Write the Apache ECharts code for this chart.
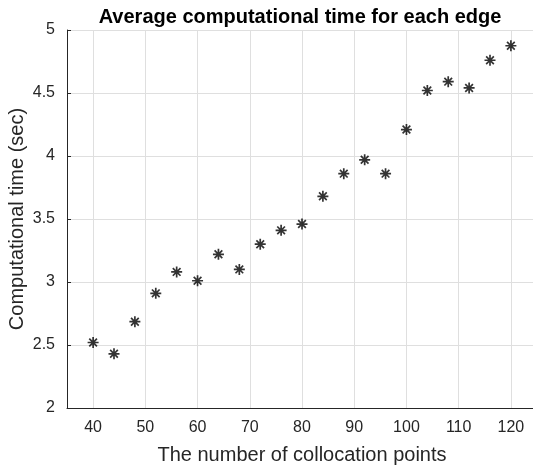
<!DOCTYPE html>
<html>
<head>
<meta charset="utf-8">
<script src="https://cdn.jsdelivr.net/npm/echarts@6/dist/echarts.min.js"></script>
<style>
html,body{margin:0;padding:0;background:#fff;}
#main{width:533px;height:473px;}
</style>
</head>
<body>
<div id="main"></div>
<script>
// collocation points and average time (sec)
var points = [40, 44, 48, 52, 56, 60, 64, 68, 72, 76, 80, 84, 88, 92, 96, 100, 104, 108, 112, 116, 120];
var times = [2.52, 2.43, 2.685, 2.91, 3.08, 3.01, 3.22, 3.10, 3.30, 3.41, 3.46, 3.68, 3.86, 3.97, 3.86, 4.21, 4.52, 4.59, 4.54, 4.76, 4.875];
var xTicks = [40, 50, 60, 70, 80, 90, 100, 110, 120];
var yTicks = [2, 2.5, 3, 3.5, 4, 4.5, 5];

var data = [];
for (var i = 0; i < points.length; i++) {
	data.push([points[i], times[i]]);
}

// asterisk marker like matlab '*'
var star = 'path://M5,0L5,10M0,5L10,5M1.5,1.5L8.5,8.5M1.5,8.5L8.5,1.5';

var chart = echarts.init(document.getElementById('main'));
var option = {
	animation: false,
	backgroundColor: '#fff',
	textStyle: {fontFamily: 'Liberation Sans, Arial, sans-serif'},
	title: {
		text: 'Average computational time for each edge',
		left: 295,
		textAlign: 'center',
		top: 2,
		textStyle: {fontSize: 20, fontWeight: 'bold', color: '#000'}
	},
	grid: {left: 67, right: -4, top: 30, bottom: 65, containLabel: false, outerBoundsMode: 'none'},
	xAxis: {
		type: 'value',
		min: 35,
		max: 125,
		name: 'The number of collocation points',
		nameLocation: 'middle',
		nameGap: 37,
		nameMoveOverlap: false,
		nameTextStyle: {fontSize: 20, color: '#262626'},
		axisLine: {show: true, lineStyle: {color: '#262626', width: 1}},
		axisTick: {inside: true, length: 4, lineStyle: {color: '#262626'},
			customValues: xTicks},
		axisLabel: {fontSize: 16, color: '#262626', margin: 12,
			customValues: xTicks},
		splitLine: {show: false}
	},
	yAxis: {
		type: 'value',
		min: 2,
		max: 5,
		interval: 0.5,
		name: 'Computational time (sec)',
		nameLocation: 'middle',
		nameGap: 40,
		nameMoveOverlap: false,
		nameTextStyle: {fontSize: 20, color: '#262626'},
		axisLine: {show: true, lineStyle: {color: '#262626', width: 1}},
		axisTick: {inside: true, length: 4, lineStyle: {color: '#262626'}},
		axisLabel: {fontSize: 16, color: '#262626', margin: 12,
			formatter: function (v) { return yTicks.indexOf(v) >= 0 ? String(v) : ''; }},
		splitLine: {show: true, lineStyle: {color: '#dfdfdf', width: 1}}
	},
	series: [{
		// vertical grid lines at the labelled ticks
		type: 'line',
		data: [],
		z: 0,
		markLine: {
			silent: true,
			symbol: 'none',
			label: {show: false},
			lineStyle: {color: '#dfdfdf', width: 1, type: 'solid'},
			data: xTicks.map(function (v) { return {xAxis: v}; })
		}
	}, {
		type: 'scatter',
		data: data,
		z: 5,
		symbol: star,
		symbolSize: 11,
		itemStyle: {color: 'none', borderColor: '#000', borderWidth: 1.7}
	}]
};
chart.setOption(option);
</script>
</body>
</html>
